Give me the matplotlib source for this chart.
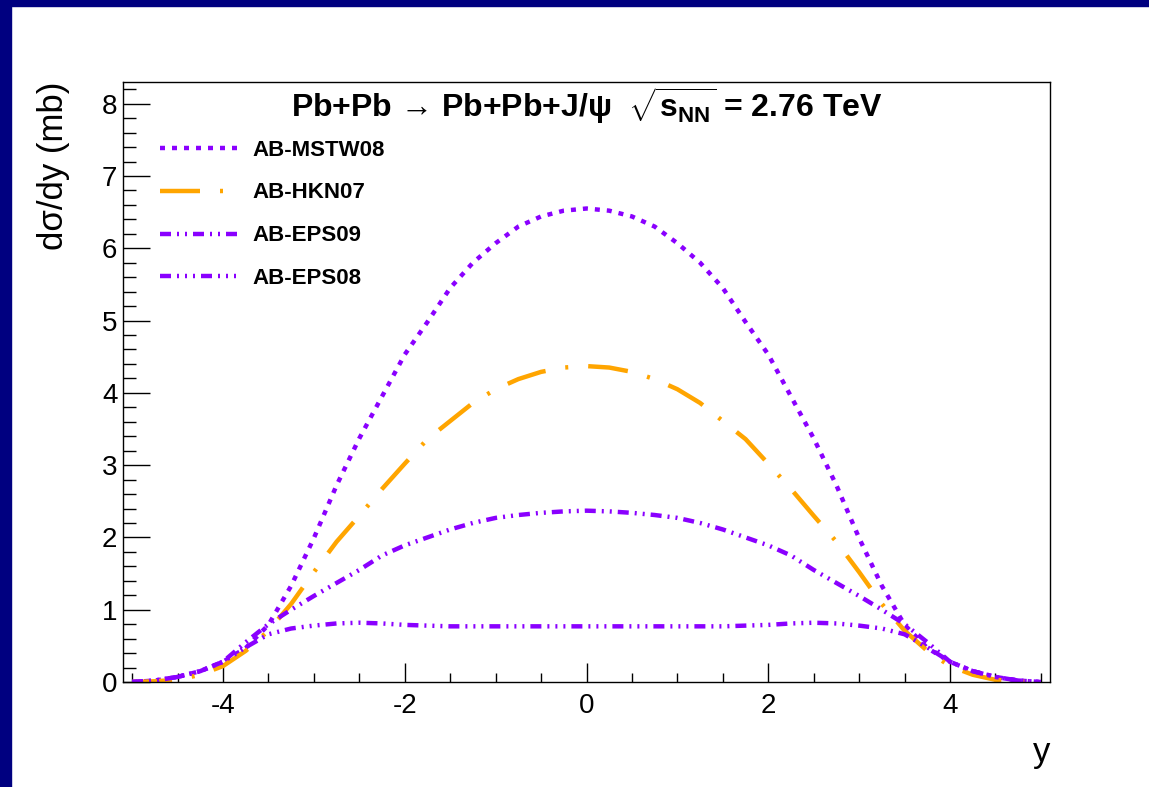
import matplotlib
matplotlib.use('Agg')
import matplotlib.pyplot as plt
from matplotlib.patches import Rectangle
from matplotlib.ticker import MultipleLocator

plt.rcParams['font.family'] = ['Liberation Sans', 'DejaVu Sans']
plt.rcParams['mathtext.fontset'] = 'custom'
plt.rcParams['mathtext.rm'] = 'Liberation Sans'
plt.rcParams['mathtext.bf'] = 'Liberation Sans:bold'
plt.rcParams['mathtext.it'] = 'Liberation Sans:italic'
plt.rcParams['lines.scale_dashes'] = False
plt.rcParams['axes.unicode_minus'] = False

# rapidity grid and dsigma/dy (mb)
rapidity = [-5.0, -4.75, -4.5, -4.25, -4.0, -3.75, -3.5, -3.25, -3.0, -2.75, -2.5,
            -2.25, -2.0, -1.75, -1.5, -1.25, -1.0, -0.75, -0.5, -0.25, 0.0,
            0.25, 0.5, 0.75, 1.0, 1.25, 1.5, 1.75, 2.0, 2.25, 2.5,
            2.75, 3.0, 3.25, 3.5, 3.75, 4.0, 4.25, 4.5, 4.75, 5.0]
mstw08 = [0.00, 0.02, 0.07, 0.15, 0.28, 0.47, 0.79, 1.33, 1.99, 2.72, 3.37,
          3.95, 4.53, 4.98, 5.45, 5.80, 6.07, 6.30, 6.44, 6.52, 6.55,
          6.52, 6.44, 6.30, 6.07, 5.80, 5.45, 4.98, 4.53, 3.95, 3.37,
          2.72, 1.99, 1.33, 0.79, 0.47, 0.28, 0.15, 0.07, 0.02, 0.00]
hkn07 = [0.00, 0.01, 0.03, 0.10, 0.22, 0.43, 0.71, 1.08, 1.52, 1.94, 2.30,
         2.67, 3.02, 3.36, 3.61, 3.86, 4.05, 4.19, 4.29, 4.35, 4.37,
         4.35, 4.29, 4.19, 4.05, 3.86, 3.61, 3.36, 3.02, 2.67, 2.30,
         1.94, 1.52, 1.08, 0.71, 0.43, 0.22, 0.10, 0.03, 0.01, 0.00]
eps09 = [0.00, 0.02, 0.07, 0.15, 0.28, 0.55, 0.80, 1.00, 1.19, 1.37, 1.55,
         1.75, 1.89, 2.00, 2.11, 2.20, 2.27, 2.31, 2.34, 2.36, 2.37,
         2.36, 2.34, 2.31, 2.27, 2.20, 2.11, 2.00, 1.89, 1.75, 1.55,
         1.37, 1.19, 1.00, 0.80, 0.55, 0.28, 0.15, 0.07, 0.02, 0.00]
eps08 = [0.00, 0.02, 0.07, 0.15, 0.28, 0.48, 0.66, 0.74, 0.78, 0.81, 0.82,
         0.81, 0.79, 0.78, 0.77, 0.77, 0.77, 0.77, 0.77, 0.77, 0.77,
         0.77, 0.77, 0.77, 0.77, 0.77, 0.77, 0.78, 0.79, 0.81, 0.82,
         0.81, 0.78, 0.74, 0.66, 0.48, 0.28, 0.15, 0.07, 0.02, 0.00]

purple = '#8a00ff'
orange = '#ffa500'
px = 0.72  # one pixel in points at 100 dpi

fig = plt.figure(figsize=(11.49, 7.87), dpi=100)
fig.patch.set_facecolor('white')
# navy frame around the canvas
fig.patches.append(Rectangle((0, 0), 11 / 1149, 1, transform=fig.transFigure,
                             color='#000080', zorder=0))
fig.patches.append(Rectangle((0, 1 - 6 / 787), 1, 6 / 787, transform=fig.transFigure,
                             color='#000080', zorder=0))

ax = fig.add_axes([123 / 1149, 105 / 787, 927 / 1149, 600 / 787])

lw = 3.2
ax.plot(rapidity, mstw08, color=purple, lw=lw, label='AB-MSTW08',
        dashes=(5 * px, 7 * px), dash_capstyle='butt')
ax.plot(rapidity, hkn07, color=orange, lw=lw, label='AB-HKN07',
        dashes=(40 * px, 20 * px, 3 * px, 20 * px), dash_capstyle='butt')
ax.plot(rapidity, eps09, color=purple, lw=lw, label='AB-EPS09',
        dashes=(11 * px, 6 * px, 2 * px, 6 * px, 2 * px, 6 * px), dash_capstyle='butt')
ax.plot(rapidity, eps08, color=purple, lw=lw, label='AB-EPS08',
        dashes=(11 * px, 6 * px, 2 * px, 6 * px, 2 * px, 6 * px, 2 * px, 6 * px),
        dash_capstyle='butt')

ax.set_xlim(-5.1, 5.1)
ax.set_ylim(0, 8.3)
ax.xaxis.set_major_locator(MultipleLocator(2))
ax.xaxis.set_minor_locator(MultipleLocator(0.5))
ax.yaxis.set_major_locator(MultipleLocator(1))
ax.yaxis.set_minor_locator(MultipleLocator(0.2))
ax.tick_params(axis='both', which='both', direction='in', top=False, right=False,
               labelsize=20, width=1)
ax.tick_params(axis='x', which='major', length=19 * px, pad=8)
ax.tick_params(axis='x', which='minor', length=9 * px)
ax.tick_params(axis='y', which='major', length=27 * px, pad=4)
ax.tick_params(axis='y', which='minor', length=13 * px)
for s in ax.spines.values():
    s.set_linewidth(1)

ax.set_xlabel('y', fontsize=25, loc='right', labelpad=12)
ax.set_ylabel('dσ/dy (mb)', fontsize=25, loc='top', labelpad=23)

ax.text(0.5, 0.942, 'Pb+Pb → Pb+Pb+J/ψ  $\\sqrt{\\mathbf{s}_{\\mathbf{NN}}}$ = 2.76 TeV',
        transform=ax.transAxes, ha='center', va='baseline', fontsize=23, fontweight='bold')

ax.legend(loc='upper left', bbox_to_anchor=(37 / 927, 0.904), frameon=False,
          prop={'weight': 'bold', 'size': 16}, handlelength=3.6,
          handletextpad=0.55, labelspacing=0.985, borderpad=0, borderaxespad=0)

fig.savefig('out.png', dpi=100)
